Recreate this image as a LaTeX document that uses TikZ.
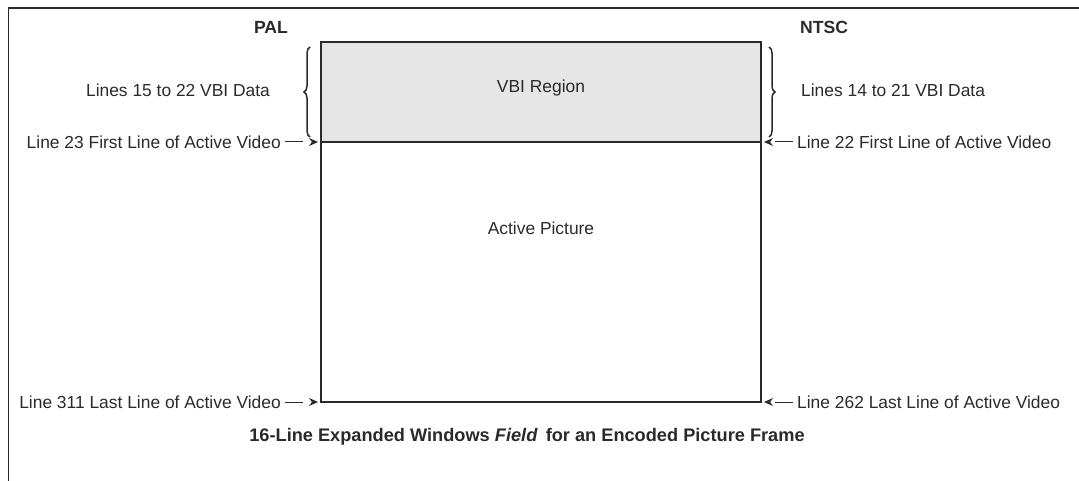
\documentclass[tikz,border=0pt]{standalone}
\usepackage{fontspec}
\setmainfont{Liberation Sans}
\usetikzlibrary{arrows.meta,decorations.pathreplacing}
\definecolor{ink}{HTML}{2A2A2A}
\definecolor{vbigray}{HTML}{E6E6E6}
\tikzset{
  lbl/.style={inner sep=0pt, font=\fontsize{17.4}{20}\selectfont, text=ink},
  ttl/.style={inner sep=0pt, font=\fontsize{17.6}{20}\selectfont\bfseries, text=ink},
  captionstyle/.style={inner sep=0pt, font=\fontsize{18.2}{20}\selectfont\bfseries, text=ink},
  pointer/.style={draw=ink, line width=1pt, dash pattern=on 18pt off 30pt, -{Stealth[length=9pt,width=8pt]}},
  bracestyle/.style={draw=ink, line width=1.5pt, decorate, decoration={brace, amplitude=6pt}},
  boxline/.style={draw=ink, line width=1.3pt}
}
\begin{document}
\begin{tikzpicture}[x=1pt,y=-1pt]
\useasboundingbox (0,0) rectangle (1079,481);
% frame (top and left only)
\draw[draw=ink, line width=1.6pt] (8.5,481) -- (8.5,8) -- (1079,8);
% regions
\fill[vbigray] (321,42) rectangle (761,142);
\coordinate (tl) at (321,42);
\coordinate (tr) at (761,42);
\coordinate (ml) at (321,142);
\coordinate (mr) at (761,142);
\coordinate (bl) at (321,402);
\coordinate (br) at (761,402);
\draw[boxline] (tl) -- (tr) -- (br) -- (bl) -- cycle;
\draw[boxline] (ml) -- (mr);
\node[lbl] (vbi) at (541,88) {VBI Region};
\node[lbl] (act) at (541,228) {Active Picture};
% titles
\node[ttl] (pal) at (271,27) {PAL};
\node[ttl] (ntsc) at (824,27) {NTSC};
% braces
\coordinate (lbt) at (310,47);
\coordinate (lbb) at (310,137);
\coordinate (rbt) at (769,47);
\coordinate (rbb) at (769,137);
\draw[bracestyle] (lbb) -- (lbt);
\draw[bracestyle] (rbt) -- (rbb);
\node[lbl] (l1522) at (178,90) {Lines 15 to 22 VBI Data};
\node[lbl, anchor=west] (l1421) at (801,90) {Lines 14 to 21 VBI Data};
% pointers
\node[lbl, anchor=east] (l23) at (281,142) {Line 23 First Line of Active Video};
\node[lbl, anchor=east] (l311) at (281,402) {Line 311 Last Line of Active Video};
\node[lbl, anchor=west] (l22) at (797,142) {Line 22 First Line of Active Video};
\node[lbl, anchor=west] (l262) at (797,402) {Line 262 Last Line of Active Video};
\draw[pointer] ([xshift=4pt]l23.east) -- ([xshift=-3pt]ml);
\draw[pointer] ([xshift=4pt]l311.east) -- ([xshift=-3pt]bl);
\draw[pointer] ([xshift=-4pt]l22.west) -- ([xshift=3pt]mr);
\draw[pointer] ([xshift=-4pt]l262.west) -- ([xshift=3pt]br);
% caption
\node[captionstyle] (cap) at (527,437) {16-Line Expanded Windows \textit{Field}\, for an Encoded Picture Frame};
\end{tikzpicture}
\end{document}
